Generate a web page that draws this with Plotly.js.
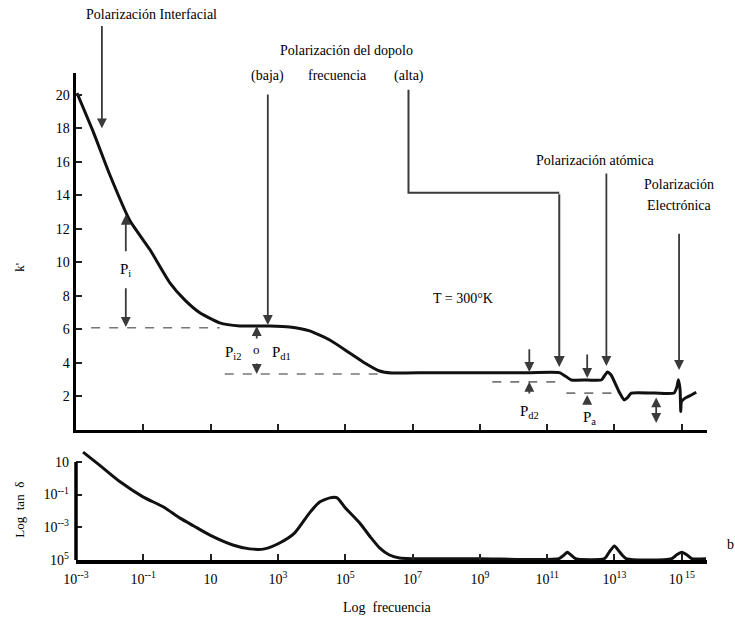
<!DOCTYPE html>
<html>
<head>
<meta charset="utf-8">
<script src="https://cdn.plot.ly/plotly-3.0.1.min.js"></script>
<style>html,body{margin:0;padding:0;background:#fff;} #chart{width:735px;height:622px;}</style>
</head>
<body>
<div id="chart"></div>
<script>
// ---- data (log10 of frequency on x) ----
const kLogF = [-2.97, -2.47, -1.99, -1.40, -0.80, -0.21, 0.23, 0.68, 1.27, 1.87, 2.76, 3.35, 3.94, 4.54, 5.13, 5.58, 6.02, 6.38, 7.5, 9.0, 10.5, 11.36, 11.55, 11.72, 12.2, 12.61, 12.70, 12.79, 12.9, 13.14, 13.29, 13.38, 13.5, 14.2, 14.77, 14.86, 14.9, 14.95, 14.97, 14.99, 15.1, 15.25, 15.43];
const kValues = [20.1, 17.7, 15.2, 12.5, 10.75, 8.78, 7.76, 6.99, 6.39, 6.21, 6.21, 6.15, 5.91, 5.37, 4.6, 4.0, 3.52, 3.40, 3.42, 3.42, 3.42, 3.42, 3.2, 2.98, 2.98, 2.98, 3.22, 3.46, 3.28, 2.27, 1.79, 1.91, 2.2, 2.2, 2.2, 2.6, 3.0, 2.4, 1.1, 1.7, 1.9, 2.05, 2.25];

const tanLogF = [-2.79, -2.3, -1.69, -1.01, -0.4, 0.09, 0.5, 0.98, 1.66, 2.16, 2.6, 3.05, 3.5, 3.94, 4.24, 4.54, 4.76, 4.98, 5.43, 5.75, 6.02, 6.3, 6.61, 7.0, 9.0, 11.35, 11.5, 11.6, 11.7, 11.85, 12.7, 12.85, 13.0, 13.15, 13.35, 14.7, 14.85, 15.0, 15.15, 15.3, 15.72];
const tanValues = [3.30, 2.90, 2.39, 1.93, 1.62, 1.28, 1.04, 0.76, 0.46, 0.34, 0.34, 0.52, 0.83, 1.44, 1.77, 1.9, 1.9, 1.62, 1.13, 0.7, 0.37, 0.16, 0.06, 0.04, 0.04, 0.04, 0.15, 0.24, 0.16, 0.04, 0.04, 0.25, 0.43, 0.25, 0.04, 0.04, 0.16, 0.24, 0.16, 0.04, 0.04];

const xTickVals = [-3, -1, 1, 3, 5, 7, 9, 11, 13, 15];
const xTickText = ['10<sup>--3</sup>', '10<sup>--1</sup>', '10', '10<sup>3</sup>', '10<sup>5</sup>', '10<sup>7</sup>', '10<sup>9</sup>', '10<sup>11</sup>', '10<sup>13</sup>', '10<sup> 15</sup>'];
const kTickVals = [2, 4, 6, 8, 10, 12, 14, 16, 18, 20];
const tanTickVals = [0, 1, 2, 3];
const tanTickText = ['10<sup>5</sup>', '10<sup>--3</sup>', '10<sup>--1</sup>', '10'];

// dashed reference levels in the k' panel
const dashLevel = [6.1, 3.34, 2.87, 2.2];
const dashFrom = [-2.55, 1.42, 9.37, 11.57];
const dashTo = [1.27, 6.0, 11.5, 12.93];

const FONT = '"Liberation Serif", "Times New Roman", serif';
const ARROW = '#3a3a3a';

const traces = [
  {x: kLogF, y: kValues, xaxis: 'x', yaxis: 'y', mode: 'lines',
   line: {color: '#111', width: 3, shape: 'spline', smoothing: 0.5}, hoverinfo: 'skip'},
  {x: tanLogF, y: tanValues, xaxis: 'x2', yaxis: 'y2', mode: 'lines',
   line: {color: '#111', width: 3, shape: 'spline', smoothing: 0.6}, hoverinfo: 'skip', cliponaxis: false}
];

const shapes = dashLevel.map((lv, i) => ({
  type: 'line', xref: 'x', yref: 'y', x0: dashFrom[i], x1: dashTo[i], y0: lv, y1: lv,
  line: {color: '#777', width: 1.6, dash: 'dash'}
}));
// "(alta)" leader path
shapes.push({type: 'path', xref: 'x', yref: 'y', path: 'M 6.88,20.3 L 6.88,14.15 L 11.36,14.15',
  line: {color: ARROW, width: 2}});
// left axis line of the tan panel
shapes.push({type: 'line', xref: 'paper', yref: 'y2', x0: 0, x1: 0, y0: 0, y1: 3,
  line: {color: '#000', width: 3.5}});

function arrow(x, y, ax, ay, w) {
  return {xref: 'x', yref: 'y', axref: 'x', ayref: 'y', x: x, y: y, ax: ax, ay: ay, text: '',
    showarrow: true, arrowhead: 2, arrowsize: 1.1, arrowwidth: w || 1.8, arrowcolor: ARROW};
}
function txt(text, x, y, xref, yref, size, extra) {
  return Object.assign({xref: xref, yref: yref, x: x, y: y, text: text, showarrow: false,
    xanchor: 'center', yanchor: 'middle',
    font: {family: FONT, size: size || 13, color: '#000'}}, extra || {});
}

const annotations = [
  // long arrows
  arrow(-2.23, 18.0, -2.23, 24.2),
  arrow(2.70, 6.27, 2.70, 20.1),
  arrow(11.36, 3.76, 11.36, 14.15, 2),
  arrow(12.76, 3.82, 12.76, 15.4),
  arrow(14.92, 3.58, 14.92, 11.8),
  // P_i
  arrow(-1.52, 12.84, -1.52, 10.57),
  arrow(-1.52, 6.15, -1.52, 8.54),
  // P_i2 o P_d1
  arrow(2.37, 6.2, 2.37, 5.37),
  arrow(2.37, 3.34, 2.37, 4.06),
  // P_d2
  arrow(10.47, 3.46, 10.47, 4.9),
  arrow(10.47, 2.87, 10.47, 2.09),
  // P_a
  arrow(12.19, 3.1, 12.19, 4.6),
  arrow(12.19, 2.09, 12.19, 1.49),
  // unlabeled double arrow
  Object.assign(arrow(14.24, 0.42, 14.24, 2.03), {arrowside: 'end+start'}),
  // labels inside top panel
  txt('P<sub>i</sub>', -1.52, 9.55, 'x', 'y', 15),
  txt('P<sub>i</sub><sub>2</sub>', 1.67, 4.6, 'x', 'y', 15),
  txt('o', 2.37, 4.8, 'x', 'y', 13),
  txt('P<sub>d</sub><sub>1</sub>', 3.1, 4.6, 'x', 'y', 15),
  txt('P<sub>d</sub><sub>2</sub>', 10.47, 1.07, 'x', 'y', 15),
  txt('P<sub>a</sub>', 12.25, 0.72, 'x', 'y', 15),
  txt('T = 300°K', 0.613, 0.536, 'paper', 'paper', 14),
  // labels above
  txt('Polarización Interfacial', 0.119, 1.121, 'paper', 'paper', 14),
  txt('Polarización del dopolo', 0.428, 1.047, 'paper', 'paper', 14),
  txt('(baja)', 0.304, 0.994, 'paper', 'paper', 14),
  txt('frecuencia', 0.414, 0.994, 'paper', 'paper', 14),
  txt('(alta)', 0.528, 0.994, 'paper', 'paper', 14),
  txt('Polarización atómica', 0.823, 0.821, 'paper', 'paper', 14),
  txt('Polarización', 0.956, 0.772, 'paper', 'paper', 14),
  txt('Electrónica', 0.956, 0.727, 'paper', 'paper', 14),
  // axis titles
  txt("k'", -0.089, 0.602, 'paper', 'paper', 13, {textangle: -90}),
  txt('Log  tan  δ', -0.089, 0.103, 'paper', 'paper', 13, {textangle: -90}),
  txt('Log  frecuencia', 0.493, -0.097, 'paper', 'paper', 14),
  txt('b', 1.038, 0.031, 'paper', 'paper', 14)
];

const axisCommon = {
  showgrid: false, zeroline: false, showline: true, linecolor: '#000', linewidth: 3.5,
  ticks: 'inside', ticklen: 6, tickwidth: 2, tickcolor: '#222',
  tickfont: {family: FONT, size: 14, color: '#000'}, fixedrange: true
};

const layout = {
  width: 735, height: 622,
  margin: {l: 76, r: 28, t: 73, b: 62},
  paper_bgcolor: '#fff', plot_bgcolor: '#fff',
  showlegend: false,
  font: {family: FONT, size: 13, color: '#000'},
  xaxis: Object.assign({}, axisCommon, {anchor: 'y', range: [-3, 15.75], tickvals: xTickVals, showticklabels: false}),
  yaxis: Object.assign({}, axisCommon, {anchor: 'x', domain: [0.267, 1], range: [0, 21.3], tickvals: kTickVals}),
  xaxis2: Object.assign({}, axisCommon, {anchor: 'y2', range: [-3, 15.75], tickvals: xTickVals, ticktext: xTickText,
    ticklabelstandoff: 4}),
  yaxis2: Object.assign({}, axisCommon, {anchor: 'x2', domain: [0, 0.225], range: [0, 3.35], showline: false,
    tickvals: tanTickVals, ticktext: tanTickText, ticklabelstandoff: 6}),
  shapes: shapes,
  annotations: annotations
};

Plotly.newPlot('chart', traces, layout, {staticPlot: true, displayModeBar: false});
</script>
</body>
</html>
